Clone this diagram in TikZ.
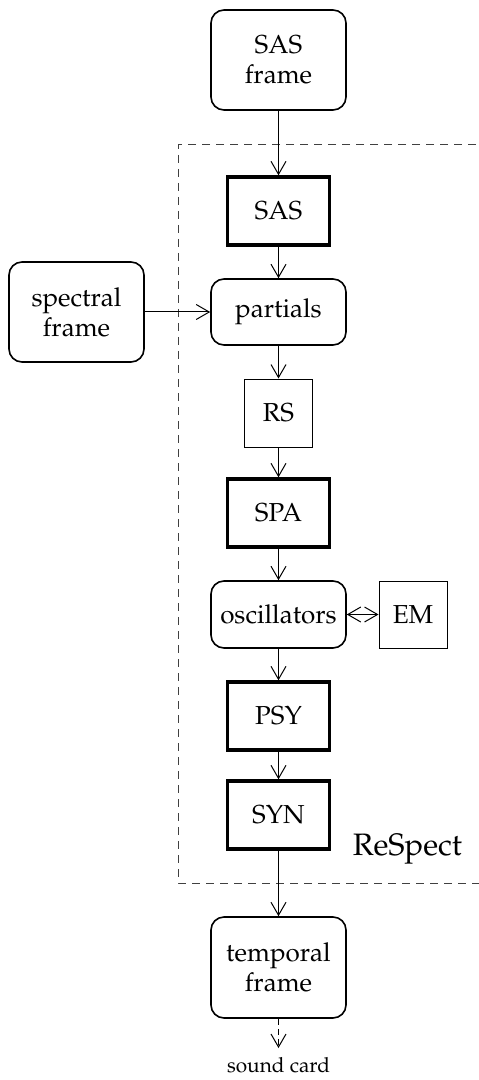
\documentclass[tikz,border=0pt]{standalone}
\usepackage[T1]{fontenc}
\usepackage{mathpazo}
\usetikzlibrary{arrows.meta}
\begin{document}
\begin{tikzpicture}[x=0.5pt,y=-0.5pt,
  font=\fontsize{13}{15}\selectfont,
  >={Straight Barb[length=6.5pt,width=7.5pt]},
  conn/.style={->,line width=0.5pt},
  base/.style={draw,inner sep=0pt,align=center,line width=0.5pt},
  roundbox/.style={base,line width=0.8pt,rounded corners=6.5pt,minimum width=67.5pt},
  thickbox/.style={base,line width=1.7pt,minimum width=51pt,minimum height=34pt},
  thinbox/.style={base,minimum width=34pt,minimum height=34pt},
  region/.style={draw=black!75,line width=0.5pt,dash pattern=on 4pt off 3pt}]
\useasboundingbox (0,0) rectangle (478,1080);
% ReSpect region
\draw[region] (490,145) -- (178,145) -- (178,883) -- (490,883);
\node[anchor=base,font=\fontsize{15.5}{18}\selectfont] (respect) at (407.5,855) {ReSpect};
% nodes
\node[roundbox,minimum height=50pt] (sasframe) at (278.5,60) {SAS\\frame};
\node[thickbox] (sas) at (278.5,211) {SAS};
\node[roundbox,minimum height=50pt] (spectral) at (76.5,312) {spectral\\frame};
\node[roundbox,minimum height=33pt] (partials) at (278.5,312) {partials};
\node[thinbox] (rs) at (278.5,413) {RS};
\node[thickbox] (spa) at (278.5,513) {SPA};
\node[roundbox,minimum height=33.5pt] (osc) at (278.5,614.5) {oscillators};
\node[thinbox,minimum height=33.5pt] (em) at (413,614.5) {EM};
\node[thickbox] (psy) at (278.5,716) {PSY};
\node[thickbox] (syn) at (278.5,815) {SYN};
\node[roundbox,minimum height=50.5pt] (temporal) at (278.5,967.5) {temporal\\frame};
\node[font=\fontsize{10.4}{12}\selectfont,inner sep=0.5pt,anchor=north] (sound) at (278.5,1056) {sound card};
% connectors
\draw[conn] (sasframe) -- (sas);
\draw[conn] (sas) -- (partials);
\draw[conn] (spectral) -- (partials);
\draw[conn] (partials) -- (rs);
\draw[conn] (rs) -- (spa);
\draw[conn] (spa) -- (osc);
\draw[<->,line width=0.5pt] (osc) -- (em);
\draw[conn] (osc) -- (psy);
\draw[conn] (psy) -- (syn);
\draw[conn] (syn) -- (temporal);
\draw[conn,dash pattern=on 3pt off 2pt,shorten >=4pt] (temporal) -- (sound);
\end{tikzpicture}
\end{document}
